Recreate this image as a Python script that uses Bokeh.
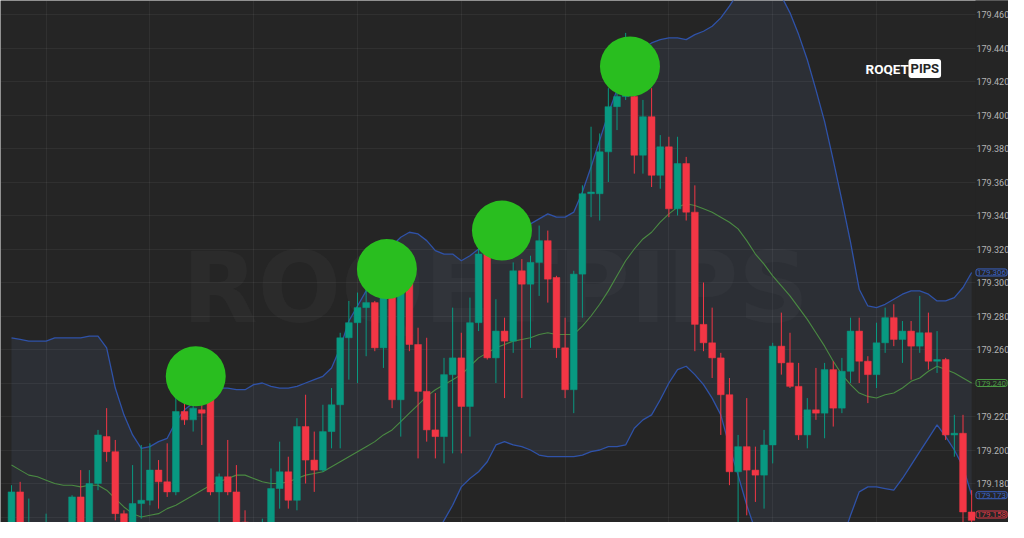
from bokeh.plotting import figure
from bokeh.models import ColumnDataSource, Range1d, FixedTicker, Label, BoxAnnotation
from bokeh.embed import file_html
from bokeh.resources import INLINE

# ---------------- data (one bar per period) ----------------
opens = [179.156, 179.175, 179.137, 179.148, 179.139, 179.145, 179.136, 179.143, 179.172, 179.155,
         179.180, 179.208, 179.199, 179.162, 179.153, 179.168, 179.170, 179.188, 179.181, 179.175,
         179.223, 179.218, 179.224, 179.231, 179.175, 179.184, 179.175, 179.157, 179.146, 179.142,
         179.151, 179.177, 179.187, 179.170, 179.214, 179.194, 179.188, 179.211, 179.227, 179.267,
         179.276, 179.285, 179.288, 179.261, 179.297, 179.230, 179.301, 179.263, 179.235, 179.212,
         179.208, 179.245, 179.255, 179.226, 179.276, 179.317, 179.255, 179.271, 179.265, 179.307,
         179.299, 179.312, 179.325, 179.303, 179.261, 179.236, 179.305, 179.353, 179.353, 179.378,
         179.405, 179.411, 179.411, 179.376, 179.399, 179.364, 179.381, 179.344, 179.371, 179.342,
         179.275, 179.264, 179.255, 179.233, 179.187, 179.202, 179.188, 179.185, 179.203, 179.262,
         179.252, 179.238, 179.209, 179.224, 179.222, 179.248, 179.225, 179.247, 179.271, 179.253,
         179.245, 179.264, 179.279, 179.266, 179.271, 179.262, 179.270, 179.253, 179.254, 179.209,
         179.210, 179.163]
highs = [179.179, 179.181, 179.171, 179.152, 179.162, 179.147, 179.146, 179.173, 179.188, 179.188,
         179.212, 179.225, 179.206, 179.164, 179.191, 179.203, 179.204, 179.194, 179.204, 179.231,
         179.231, 179.239, 179.231, 179.239, 179.186, 179.206, 179.191, 179.164, 179.156, 179.159,
         179.189, 179.205, 179.196, 179.219, 179.233, 179.211, 179.227, 179.237, 179.270, 179.289,
         179.294, 179.307, 179.289, 179.308, 179.307, 179.307, 179.306, 179.273, 179.267, 179.234,
         179.255, 179.285, 179.270, 179.291, 179.325, 179.325, 179.290, 179.279, 179.312, 179.314,
         179.316, 179.334, 179.331, 179.304, 179.279, 179.307, 179.358, 179.393, 179.389, 179.416,
         179.421, 179.449, 179.415, 179.409, 179.416, 179.388, 179.387, 179.387, 179.375, 179.358,
         179.300, 179.285, 179.258, 179.243, 179.209, 179.231, 179.202, 179.212, 179.264, 179.282,
         179.270, 179.252, 179.231, 179.249, 179.252, 179.253, 179.255, 179.279, 179.279, 179.256,
         179.276, 179.285, 179.287, 179.277, 179.277, 179.292, 179.282, 179.271, 179.255, 179.221,
         179.221, 179.176]
lows = [179.143, 179.137, 179.131, 179.134, 179.135, 179.130, 179.133, 179.140, 179.152, 179.153,
        179.176, 179.193, 179.158, 179.146, 179.151, 179.159, 179.167, 179.165, 179.172, 179.173,
        179.215, 179.211, 179.203, 179.173, 179.146, 179.173, 179.155, 179.143, 179.139, 179.140,
        179.149, 179.165, 179.165, 179.164, 179.180, 179.175, 179.187, 179.201, 179.201, 179.242,
        179.240, 179.256, 179.259, 179.249, 179.225, 179.208, 179.259, 179.195, 179.205, 179.195,
        179.192, 179.198, 179.198, 179.208, 179.271, 179.254, 179.240, 179.231, 179.258, 179.231,
        179.261, 179.292, 179.288, 179.255, 179.231, 179.222, 179.279, 179.339, 179.337, 179.360,
        179.391, 179.409, 179.365, 179.365, 179.357, 179.356, 179.339, 179.340, 179.337, 179.259,
        179.259, 179.243, 179.209, 179.179, 179.143, 179.161, 179.169, 179.165, 179.192, 179.245,
        179.237, 179.206, 179.201, 179.218, 179.207, 179.214, 179.222, 179.240, 179.240, 179.228,
        179.237, 179.258, 179.262, 179.252, 179.242, 179.258, 179.248, 179.246, 179.206, 179.196,
        179.156, 179.149]
closes = [179.175, 179.141, 179.146, 179.140, 179.146, 179.136, 179.143, 179.172, 179.155, 179.180,
          179.209, 179.199, 179.162, 179.153, 179.168, 179.170, 179.188, 179.181, 179.175, 179.223,
          179.218, 179.225, 179.222, 179.175, 179.184, 179.175, 179.157, 179.146, 179.142, 179.151,
          179.177, 179.187, 179.170, 179.214, 179.194, 179.188, 179.211, 179.227, 179.267, 179.276,
          179.285, 179.288, 179.261, 179.295, 179.230, 179.299, 179.263, 179.235, 179.212, 179.208,
          179.245, 179.255, 179.226, 179.276, 179.317, 179.255, 179.271, 179.265, 179.307, 179.299,
          179.312, 179.325, 179.302, 179.261, 179.236, 179.305, 179.353, 179.354, 179.378, 179.405,
          179.411, 179.418, 179.376, 179.399, 179.364, 179.381, 179.344, 179.371, 179.342, 179.275,
          179.264, 179.255, 179.233, 179.187, 179.202, 179.188, 179.185, 179.203, 179.262, 179.252,
          179.238, 179.209, 179.224, 179.222, 179.248, 179.225, 179.247, 179.271, 179.253, 179.245,
          179.264, 179.279, 179.266, 179.271, 179.262, 179.270, 179.253, 179.254, 179.209, 179.210,
          179.163, 179.158]

upper_band = [179.267, 179.266, 179.265, 179.265, 179.265, 179.267, 179.267, 179.267, 179.267, 179.268,
              179.268, 179.261, 179.237, 179.221, 179.209, 179.201, 179.202, 179.205, 179.207, 179.217,
              179.224, 179.228, 179.232, 179.235, 179.237, 179.237, 179.236, 179.236, 179.239, 179.240,
              179.238, 179.237, 179.237, 179.238, 179.240, 179.242, 179.244, 179.249, 179.261, 179.277,
              179.286, 179.295, 179.304, 179.313, 179.322, 179.327, 179.330, 179.329, 179.325, 179.319,
              179.317, 179.317, 179.313, 179.316, 179.320, 179.325, 179.328, 179.331, 179.333, 179.334,
              179.335, 179.338, 179.341, 179.339, 179.339, 179.342, 179.354, 179.369, 179.385, 179.401,
              179.415, 179.425, 179.434, 179.440, 179.443, 179.445, 179.446, 179.446, 179.445, 179.448,
              179.450, 179.453, 179.458, 179.465, 179.473, 179.479, 179.483, 179.483, 179.479, 179.471,
              179.461, 179.448, 179.433, 179.415, 179.396, 179.373, 179.349, 179.324, 179.296, 179.286,
              179.285, 179.287, 179.290, 179.293, 179.295, 179.295, 179.293, 179.289, 179.289, 179.291,
              179.297, 179.306]
middle_band = [179.191, 179.188, 179.185, 179.184, 179.182, 179.180, 179.179, 179.179, 179.178, 179.179,
               179.179, 179.176, 179.171, 179.166, 179.162, 179.160, 179.161, 179.162, 179.165, 179.167,
               179.170, 179.173, 179.176, 179.179, 179.181, 179.183, 179.185, 179.185, 179.183, 179.181,
               179.180, 179.180, 179.181, 179.183, 179.185, 179.186, 179.187, 179.190, 179.193, 179.196,
               179.199, 179.202, 179.205, 179.209, 179.212, 179.217, 179.222, 179.227, 179.232, 179.236,
               179.239, 179.242, 179.245, 179.250, 179.255, 179.258, 179.261, 179.263, 179.265, 179.266,
               179.267, 179.269, 179.270, 179.269, 179.269, 179.269, 179.274, 179.280, 179.287, 179.295,
               179.304, 179.313, 179.320, 179.326, 179.330, 179.336, 179.341, 179.345, 179.347, 179.346,
               179.344, 179.342, 179.339, 179.336, 179.332, 179.325, 179.317, 179.311, 179.304, 179.298,
               179.292, 179.285, 179.278, 179.270, 179.262, 179.253, 179.245, 179.239, 179.234, 179.232,
               179.231, 179.233, 179.234, 179.237, 179.241, 179.243, 179.247, 179.250, 179.248, 179.246,
               179.243, 179.240]
lower_band = [179.116, 179.110, 179.105, 179.102, 179.098, 179.094, 179.091, 179.090, 179.089, 179.089,
              179.089, 179.091, 179.105, 179.111, 179.116, 179.119, 179.120, 179.120, 179.122, 179.117,
              179.117, 179.119, 179.121, 179.122, 179.125, 179.129, 179.134, 179.134, 179.128, 179.122,
              179.122, 179.123, 179.125, 179.128, 179.129, 179.130, 179.131, 179.131, 179.125, 179.115,
              179.113, 179.108, 179.105, 179.105, 179.102, 179.107, 179.114, 179.125, 179.139, 179.148,
              179.158, 179.167, 179.178, 179.183, 179.187, 179.193, 179.203, 179.205, 179.203, 179.202,
              179.200, 179.197, 179.196, 179.196, 179.196, 179.196, 179.197, 179.199, 179.200, 179.202,
              179.202, 179.203, 179.213, 179.218, 179.221, 179.230, 179.240, 179.248, 179.250, 179.245,
              179.239, 179.231, 179.221, 179.202, 179.185, 179.167, 179.152, 179.140, 179.129, 179.125,
              179.122, 179.123, 179.123, 179.126, 179.128, 179.133, 179.146, 179.161, 179.175, 179.178,
              179.178, 179.177, 179.176, 179.183, 179.191, 179.199, 179.207, 179.215, 179.208, 179.200,
              179.190, 179.173]

# highlighted swing highs (bar position, price)
peak_bar = [21.3, 43.4, 56.7, 71.5]
peak_price = [179.244, 179.308, 179.331, 179.429]

price_ticks = [179.160, 179.180, 179.200, 179.220, 179.240, 179.260, 179.280, 179.300,
               179.320, 179.340, 179.360, 179.380, 179.400, 179.420, 179.440, 179.460]
time_grid = [4, 16, 28, 40, 52, 64, 76, 88, 100]

# ---------------- styling ----------------
BG = "#252525"
UP = "#089981"
DOWN = "#f23645"
BAND_BLUE = "#2f52a8"
MID_GREEN = "#4a8a42"
DOT_GREEN = "#29be1f"
W, H = 1008, 522
BAR_PX = 8.65          # horizontal pixels per bar
FIRST_BAR_PX = 11.0    # pixel position of bar 0
SCALE_PX = 975.0       # where the price scale strip begins
Y_START, Y_END = 179.15672, 179.46836

bars = list(range(len(opens)))
colors = [UP if c >= o else DOWN for o, c in zip(opens, closes)]
src = ColumnDataSource(dict(
    bar=bars, open=opens, high=highs, low=lows, close=closes,
    top=[max(o, c) for o, c in zip(opens, closes)],
    bottom=[min(o, c) for o, c in zip(opens, closes)],
    color=colors, upper=upper_band, middle=middle_band, lower=lower_band,
))

x0 = -FIRST_BAR_PX / BAR_PX
x1 = (W - FIRST_BAR_PX) / BAR_PX
p = figure(width=W, height=H,
           x_range=Range1d(x0, x1), y_range=Range1d(Y_START, Y_END),
           x_axis_location=None, y_axis_location=None,
           toolbar_location=None, output_backend="svg",
           background_fill_color=BG, border_fill_color=BG, outline_line_color=None,
           min_border=0, min_border_left=0, min_border_right=0, min_border_top=0, min_border_bottom=0)

# grid
p.ygrid.ticker = FixedTicker(ticks=price_ticks)
p.xgrid.ticker = FixedTicker(ticks=time_grid)
for g in (p.xgrid, p.ygrid):
    g.grid_line_color = "#ffffff"
    g.grid_line_alpha = 0.055
    g.grid_line_width = 1

# watermark
p.add_layout(Label(x=495, y=H - 287, x_units="screen", y_units="screen", text="ROQETPIPS",
                   text_font="DejaVu Sans", text_font_style="bold", text_font_size="98px",
                   text_color="#ffffff", text_alpha=0.03, text_align="center",
                   text_baseline="middle", level="underlay"))

# Bollinger band fill and lines
p.varea(x="bar", y1="lower", y2="upper", source=src, fill_color="#6b89c5", fill_alpha=0.1)
p.line(x="bar", y="upper", source=src, line_color=BAND_BLUE, line_width=1.3)
p.line(x="bar", y="lower", source=src, line_color=BAND_BLUE, line_width=1.3)
p.line(x="bar", y="middle", source=src, line_color=MID_GREEN, line_width=1.1)

# candles
p.segment(x0="bar", y0="low", x1="bar", y1="high", source=src, line_color="color", line_width=1)
p.vbar(x="bar", width=0.78, top="top", bottom="bottom", source=src,
       fill_color="color", line_color="color", line_width=0.5)

# highlighted highs
p.scatter(x=peak_bar, y=peak_price, marker="circle", size=60,
          fill_color=DOT_GREEN, line_color=None)

# logo
p.add_layout(Label(x=865, y=H - 68, x_units="screen", y_units="screen", text="ROQET",
                   text_font="Roboto", text_font_style="bold", text_font_size="13.5px",
                   text_color="#ffffff", text_baseline="middle", text_align="left"))
p.add_layout(Label(x=908, y=H - 68, x_units="screen", y_units="screen", text="PIPS",
                   text_font="Roboto", text_font_style="bold", text_font_size="13px",
                   text_color="#252525", text_baseline="middle", text_align="left",
                   background_fill_color="#ffffff", padding=2, border_radius=3))

# last-value tags on the price scale
tag_specs = [(upper_band[-1], "#3a62c4"), (middle_band[-1], "#4a9a44"),
             (lower_band[-1], "#3a62c4"), (closes[-1], "#e03a48")]
tag_values = [v for v, _ in tag_specs]

# price scale strip on the right
scale_left = (SCALE_PX - FIRST_BAR_PX) / BAR_PX
p.add_layout(BoxAnnotation(left=scale_left, right=x1 + 5, bottom=179.0, top=179.6,
                           fill_color=BG, fill_alpha=1.0, line_color=None))
for t in price_ticks:
    if any(abs(t - v) < 0.005 for v in tag_values):
        continue  # hidden behind a value tag, as on the original price scale
    p.add_layout(Label(x=976, y=t, x_units="screen", y_units="data", text="%.3f" % t,
                       text_font="Roboto", text_font_size="9px", text_color="#b4b4b4",
                       text_baseline="middle", text_align="left"))

px_per_price = H / (Y_END - Y_START)
for val, col in tag_specs:
    py = (Y_END - val) * px_per_price
    lift = max(0.0, py + 8 - H)
    p.add_layout(Label(x=975.5, y=val, x_units="screen", y_units="data", text="%.3f" % val,
                       y_offset=lift,
                       text_font="Roboto", text_font_size="8px", text_color=col,
                       text_baseline="middle", text_align="left",
                       background_fill_color=BG, border_line_color=col, border_line_width=1,
                       padding=1, border_radius=2))

open("out.html", "w").write(file_html(p, INLINE))
